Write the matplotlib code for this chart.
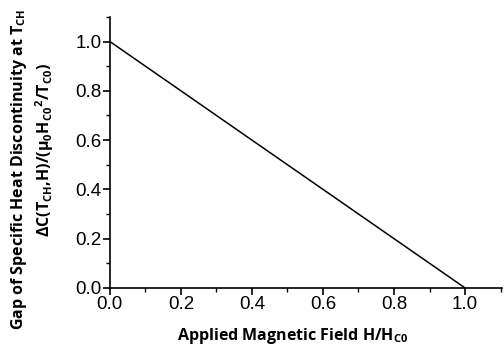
import matplotlib
matplotlib.use('Agg')
import matplotlib.pyplot as plt
from matplotlib.ticker import MultipleLocator

# data: linear decrease of the specific heat jump with field
field = [0.0, 1.0]
gap = [1.0, 0.0]

x_ticks = [0.0, 0.2, 0.4, 0.6, 0.8, 1.0]
y_ticks = [0.0, 0.2, 0.4, 0.6, 0.8, 1.0]

plt.rcParams['font.family'] = ['Liberation Sans', 'DejaVu Sans']
plt.rcParams['mathtext.default'] = 'regular'

fig = plt.figure(figsize=(5.04, 3.52), dpi=100)
ax = fig.add_axes([0.218, 0.182, 0.778, 0.770])

ax.plot(field, gap, color='black', lw=1.1)

ax.set_xlim(0, 1.104)
ax.set_ylim(0, 1.10)
ax.set_xticks(x_ticks)
ax.set_yticks(y_ticks)
ax.set_xticklabels([f'{v:.1f}' for v in x_ticks])
ax.set_yticklabels([f'{v:.1f}' for v in y_ticks])
ax.xaxis.set_minor_locator(MultipleLocator(0.1))
ax.yaxis.set_minor_locator(MultipleLocator(0.1))
ax.tick_params(which='major', direction='out', length=5, width=1.2, labelsize=13.5, pad=1, colors='black')
ax.tick_params(which='minor', direction='out', length=3, width=1.0)

for s in ['top', 'right']:
    ax.spines[s].set_visible(False)
for s in ['left', 'bottom']:
    ax.spines[s].set_linewidth(1.2)

lab = dict(family=['Open Sans', 'DejaVu Sans'], fontweight='bold', fontsize=11.5)
fig.text(0.58, 0.035, 'Applied Magnetic Field H/H$_{C0}$', ha='center', va='baseline', **lab)
fig.text(0.038, 0.52, 'Gap of Specific Heat Discontinuity at T$_{CH}$',
         rotation=90, ha='center', va='center', **lab)
fig.text(0.088, 0.575, r'ΔC(T$_{CH}$,H)/(μ$_0$H$_{C0}$$^2$/T$_{C0}$)',
         rotation=90, ha='center', va='center', **lab)

fig.savefig('out.png', dpi=100)
